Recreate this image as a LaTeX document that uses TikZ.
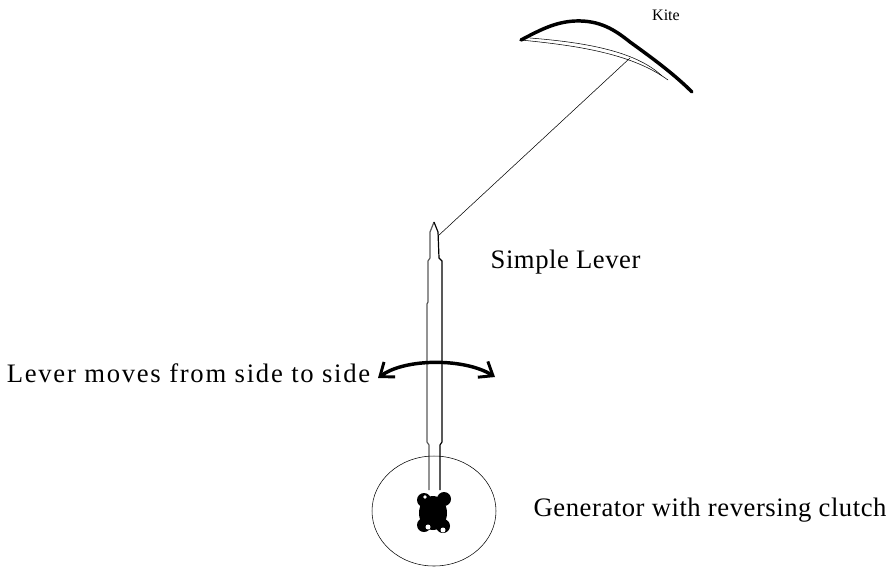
\documentclass[tikz,border=0pt]{standalone}
\usepackage{fontspec}
\setmainfont{Liberation Serif}
\usetikzlibrary{arrows.meta}

\begin{document}
\begin{tikzpicture}[x=0.75pt,y=-0.75pt,>={Straight Barb[length=9pt,width=14pt,line width=2.2pt]}]
			\useasboundingbox (0,0) rectangle (892,569);
			% kite
			\draw[line width=2.6pt,line cap=round] (521,40) .. controls (540,30) and (555,22) .. (575,21) .. controls (600,20) and (615,30) .. (630,42) .. controls (655,60) and (675,75) .. (692,92);
			\draw[thin] (521,40) .. controls (570,45) and (630,52) .. (668,80);
			\draw[thin] (530,38) .. controls (580,42) and (635,50) .. (662,76);
			\node[font=\fontsize{12}{14}\selectfont] (kite) at (666,15) {Kite};
			% tether
			\coordinate (bridle) at (630,58);
			\coordinate (tip) at (438,236);
			\draw[thin] (bridle) -- (tip);
			% lever rod
			\draw[gray!70!black,line width=0.9pt] (434,222) -- (430,232) -- (430,258) -- (428,261) -- (428,302) -- (427,304) -- (427,442) -- (429,445) -- (429,490);
			\draw[black,line width=0.9pt] (434,222) -- (438,232) -- (439,258) -- (442,261) -- (442,442) -- (440,445) -- (440,490);
			\node[anchor=west,font=\fontsize{20}{24}\selectfont\addfontfeature{LetterSpace=2}] (lever) at (486,262) {Simple Lever};
			% swing arrow
			\draw[<->,line width=2.6pt] (378,378) .. controls (405,358) and (465,358) .. (495,377);
			\node[anchor=east,font=\fontsize{20}{24}\selectfont\addfontfeature{LetterSpace=6.5}] (swing) at (375,373) {Lever moves from side to side};
			% generator
			\draw[thin] (434,511) ellipse (62 and 55);
			\fill (433,513) ellipse (14 and 17);
			\fill (424,500) circle (7) (444,499) circle (7) (424,525) circle (7) (443,526) circle (7);
			\fill[white] (428,527) circle (2.5) (443,530) circle (2.5) (425,497) circle (1.8);
			\node[anchor=west,font=\fontsize{20}{24}\selectfont\addfontfeature{LetterSpace=2}] (gen) at (529,510) {Generator with reversing clutch};
		\end{tikzpicture}
\end{document}
